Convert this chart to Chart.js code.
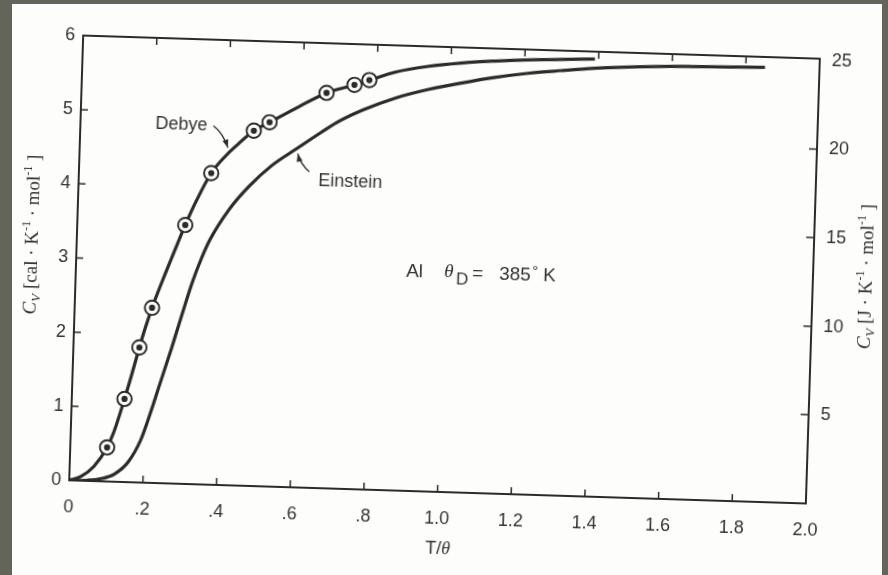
<!DOCTYPE html>
<html>
<head>
<meta charset="utf-8">
<title>Heat capacity of Al: Debye and Einstein</title>
<script src="https://cdn.jsdelivr.net/npm/chart.js@4.4.1/dist/chart.umd.min.js"></script>
<style>
  html, body { margin: 0; padding: 0; }
  body { width: 888px; height: 575px; background: #64655a; position: relative; overflow: hidden; }
  #page { position: absolute; left: 12px; top: 4px; width: 870px; height: 571px; background: #fdfdfb; overflow: hidden; }
  /* the scan is slightly turned, so the plot is too */
  #tilt { position: absolute; left: 0; top: 0; width: 870px; height: 571px;
          transform-origin: 432px 266px; transform: rotate(1.8deg); }
</style>
</head>
<body>
<div id="page"><div id="tilt"><canvas id="cv" width="870" height="571"></canvas></div></div>
<script>
// Debye curve, T/theta against Cv [cal/K/mol]
const debyeT  = [0, 0.032, 0.066, 0.100, 0.117, 0.143, 0.162, 0.179, 0.193, 0.210, 0.247, 0.271, 0.293, 0.321, 0.359,
                 0.397, 0.431, 0.471, 0.513, 0.590, 0.665, 0.740, 0.780, 0.850, 0.938, 1.028, 1.119, 1.209, 1.298, 1.390];
const debyeCv = [0, 0.06, 0.20, 0.46, 0.67, 1.12, 1.48, 1.82, 2.08, 2.36, 2.88, 3.20, 3.49, 3.82, 4.20,
                 4.44, 4.61, 4.79, 4.91, 5.13, 5.33, 5.45, 5.52, 5.64, 5.73, 5.79, 5.83, 5.86, 5.88, 5.90];

// Einstein curve
const einsteinT  = [0, 0.050, 0.090, 0.121, 0.158, 0.191, 0.215, 0.239, 0.265, 0.290, 0.317, 0.340, 0.360, 0.411, 0.463,
                    0.523, 0.587, 0.655, 0.700, 0.767, 0.852, 0.941, 1.030, 1.121, 1.210, 1.300, 1.390, 1.460, 1.643, 1.852];
const einsteinCv = [0, 0.01, 0.04, 0.10, 0.27, 0.58, 0.95, 1.36, 1.80, 2.25, 2.72, 3.05, 3.29, 3.72, 4.04,
                    4.33, 4.56, 4.80, 4.95, 5.12, 5.29, 5.42, 5.52, 5.61, 5.68, 5.73, 5.775, 5.80, 5.84, 5.86];

// circled measured points for Al
const alT  = [0.100, 0.143, 0.179, 0.210, 0.293, 0.359, 0.471, 0.513, 0.665, 0.740, 0.780];
const alCv = [0.46, 1.12, 1.82, 2.36, 3.49, 4.20, 4.79, 4.91, 5.33, 5.45, 5.52];

const xTickValues = [0, 0.2, 0.4, 0.6, 0.8, 1.0, 1.2, 1.4, 1.6, 1.8, 2.0];
const xTickLabels = ['0', '.2', '.4', '.6', '.8', '1.0', '1.2', '1.4', '1.6', '1.8', '2.0'];
const calTicks = [0, 1, 2, 3, 4, 5, 6];
const jouleTicks = [5, 10, 15, 20, 25];
const CAL_TO_J = 4.184;

const INK = '#2b2b2b';
const TEXT = '#333333';
const PAPER = '#fdfdfb';
const SANS = '"Liberation Sans", Arial, sans-serif';
const SERIF = '"Liberation Serif", "Times New Roman", serif';

function pts(xs, ys) {
    return xs.map(function (v, i) { return { x: v, y: ys[i] }; });
}

function fixedTicks(values) {
    return function (scale) {
        scale.ticks = values.map(function (v) { return { value: v }; });
    };
}

// text made of pieces with their own font / vertical shift, centred on (cx, cy)
function drawRich(ctx, parts, cx, cy, angle) {
    ctx.save();
    ctx.translate(cx, cy);
    ctx.rotate(angle || 0);
    ctx.fillStyle = TEXT;
    ctx.textBaseline = 'alphabetic';
    ctx.textAlign = 'left';
    let total = 0;
    parts.forEach(function (p) {
        ctx.font = p.font;
        p.w = ctx.measureText(p.text).width;
        total += p.w;
    });
    let pos = -total / 2;
    parts.forEach(function (p) {
        ctx.font = p.font;
        ctx.fillText(p.text, pos, 6 + (p.dy || 0));
        pos += p.w;
    });
    ctx.restore();
}

function arrow(ctx, x0, y0, cx, cy, x1, y1) {
    ctx.beginPath();
    ctx.moveTo(x0, y0);
    ctx.quadraticCurveTo(cx, cy, x1, y1);
    ctx.stroke();
    const ang = Math.atan2(y1 - cy, x1 - cx);
    ctx.beginPath();
    ctx.moveTo(x1, y1);
    ctx.lineTo(x1 - 8 * Math.cos(ang) + 3 * Math.sin(ang), y1 - 8 * Math.sin(ang) - 3 * Math.cos(ang));
    ctx.lineTo(x1 - 8 * Math.cos(ang) - 3 * Math.sin(ang), y1 - 8 * Math.sin(ang) + 3 * Math.cos(ang));
    ctx.closePath();
    ctx.fill();
}

const frameAndNotes = {
    id: 'frameAndNotes',
    afterDatasetsDraw: function (chart) {
        const ctx = chart.ctx;
        const a = chart.chartArea;
        const x = chart.scales.x, y = chart.scales.y, y2 = chart.scales.y2;
        const px = function (v) { return x.getPixelForValue(v); };
        const py = function (v) { return y.getPixelForValue(v); };

        ctx.save();
        ctx.strokeStyle = INK;
        ctx.fillStyle = INK;
        ctx.lineCap = 'butt';

        // top edge of the frame
        ctx.lineWidth = 2;
        ctx.beginPath();
        ctx.moveTo(a.left - 1, a.top);
        ctx.lineTo(a.right + 1, a.top);
        ctx.stroke();

        // inward tick marks
        ctx.lineWidth = 1.5;
        ctx.beginPath();
        xTickValues.slice(1, -1).forEach(function (v) {
            const p = px(v);
            ctx.moveTo(p, a.bottom); ctx.lineTo(p, a.bottom - 7);
            ctx.moveTo(p, a.top); ctx.lineTo(p, a.top + 7);
        });
        calTicks.slice(1, -1).forEach(function (v) {
            const p = py(v);
            ctx.moveTo(a.left, p); ctx.lineTo(a.left + 7, p);
        });
        jouleTicks.slice(0, -1).forEach(function (v) {
            const p = y2.getPixelForValue(v);
            ctx.moveTo(a.right, p); ctx.lineTo(a.right - 8, p);
        });
        ctx.stroke();

        // pointers to the curves
        ctx.lineWidth = 1.3;
        arrow(ctx, px(0.361), py(4.84), px(0.388), py(4.74), px(0.402), py(4.55));
        arrow(ctx, px(0.625), py(4.26), px(0.600), py(4.36), px(0.592), py(4.50));
        ctx.restore();

        const body = '18px ' + SANS;
        drawRich(ctx, [{ text: 'Debye', font: body }], px(0.274), py(4.853));
        drawRich(ctx, [{ text: 'Einstein', font: body }], px(0.737), py(4.156));

        // Al  theta_D = 385 K
        ctx.save();
        ctx.fillStyle = TEXT;
        ctx.textBaseline = 'alphabetic';
        const lx = px(0.896), ly = py(2.98) + 7;
        ctx.font = '19px ' + SANS;
        ctx.fillText('Al', lx, ly);
        ctx.font = 'italic 19px ' + SERIF;
        ctx.fillText('\u03b8', lx + 38, ly - 1);
        ctx.font = '17px ' + SANS;
        ctx.fillText('D', lx + 50, ly + 6);
        ctx.font = '19px ' + SANS;
        ctx.fillText('=', lx + 66, ly);
        ctx.fillText('385', lx + 93, ly);
        ctx.font = '15px ' + SANS;
        ctx.fillText('\u00b0', lx + 126, ly - 5);
        ctx.font = '19px ' + SANS;
        ctx.fillText('K', lx + 137, ly);
        ctx.restore();

        // axis titles
        const midX = (a.left + a.right) / 2, midY = (a.top + a.bottom) / 2;
        const big = '19px ' + SERIF, sub = 'italic 13px ' + SERIF, sup = '12px ' + SERIF;
        drawRich(ctx, [
            { text: 'C', font: 'italic ' + big },
            { text: 'V', font: sub, dy: 4 },
            { text: ' [cal \u00b7 K', font: big },
            { text: '-1', font: sup, dy: -8 },
            { text: ' \u00b7 mol', font: big },
            { text: '-1', font: sup, dy: -8 },
            { text: ' ]', font: big }
        ], a.left - 45, midY - 22, -Math.PI / 2);
        drawRich(ctx, [
            { text: 'C', font: 'italic ' + big },
            { text: 'V', font: sub, dy: 4 },
            { text: ' [J \u00b7 K', font: big },
            { text: '-1', font: sup, dy: -8 },
            { text: ' \u00b7 mol', font: big },
            { text: '-1', font: sup, dy: -8 },
            { text: ' ]', font: big }
        ], a.right + 53, midY - 6, -Math.PI / 2);
        drawRich(ctx, [
            { text: 'T/', font: '18px ' + SANS },
            { text: '\u03b8', font: 'italic 18px ' + SERIF }
        ], midX + 2, a.bottom + 56);
    }
};

const tickFont = { family: SANS, size: 18 };

new Chart(document.getElementById('cv'), {
    type: 'scatter',
    data: {
        datasets: [
            {
                label: 'Al (centre)',
                data: pts(alT, alCv),
                pointRadius: 3.1,
                pointBackgroundColor: INK,
                pointBorderWidth: 0,
                order: 1
            },
            {
                label: 'Al',
                data: pts(alT, alCv),
                pointRadius: 7.2,
                pointBackgroundColor: PAPER,
                pointBorderColor: INK,
                pointBorderWidth: 1.9,
                order: 2
            },
            {
                label: 'Debye',
                data: pts(debyeT, debyeCv),
                showLine: true,
                borderColor: INK,
                borderWidth: 3.2,
                pointRadius: 0,
                cubicInterpolationMode: 'monotone',
                order: 3
            },
            {
                label: 'Einstein',
                data: pts(einsteinT, einsteinCv),
                showLine: true,
                borderColor: INK,
                borderWidth: 3.2,
                pointRadius: 0,
                cubicInterpolationMode: 'monotone',
                order: 3
            }
        ]
    },
    options: {
        responsive: false,
        animation: false,
        layout: { padding: { top: 43, left: 0, right: 0, bottom: 0 } },
        plugins: {
            legend: { display: false },
            tooltip: { enabled: false }
        },
        scales: {
            x: {
                type: 'linear',
                position: 'bottom',
                min: 0,
                max: 2,
                afterBuildTicks: fixedTicks(xTickValues),
                afterFit: function (s) { s.height = 83; },
                grid: { display: false, drawTicks: false },
                border: { display: true, color: INK, width: 2 },
                ticks: {
                    autoSkip: false,
                    maxRotation: 0,
                    padding: 16,
                    color: TEXT,
                    font: tickFont,
                    callback: function (value, index) { return xTickLabels[index]; }
                }
            },
            y: {
                type: 'linear',
                position: 'left',
                min: 0,
                max: 6,
                afterBuildTicks: fixedTicks(calTicks),
                afterFit: function (s) { s.width = 64; },
                grid: { display: false, drawTicks: false },
                border: { display: true, color: INK, width: 2 },
                ticks: { padding: 8, color: TEXT, font: tickFont }
            },
            y2: {
                type: 'linear',
                position: 'right',
                min: 0,
                max: 6 * CAL_TO_J,
                afterBuildTicks: fixedTicks(jouleTicks),
                afterFit: function (s) { s.width = 69; },
                grid: { display: false, drawTicks: false },
                border: { display: true, color: INK, width: 2 },
                ticks: { padding: 12, color: TEXT, font: tickFont }
            }
        }
    },
    plugins: [frameAndNotes]
});
</script>
</body>
</html>
